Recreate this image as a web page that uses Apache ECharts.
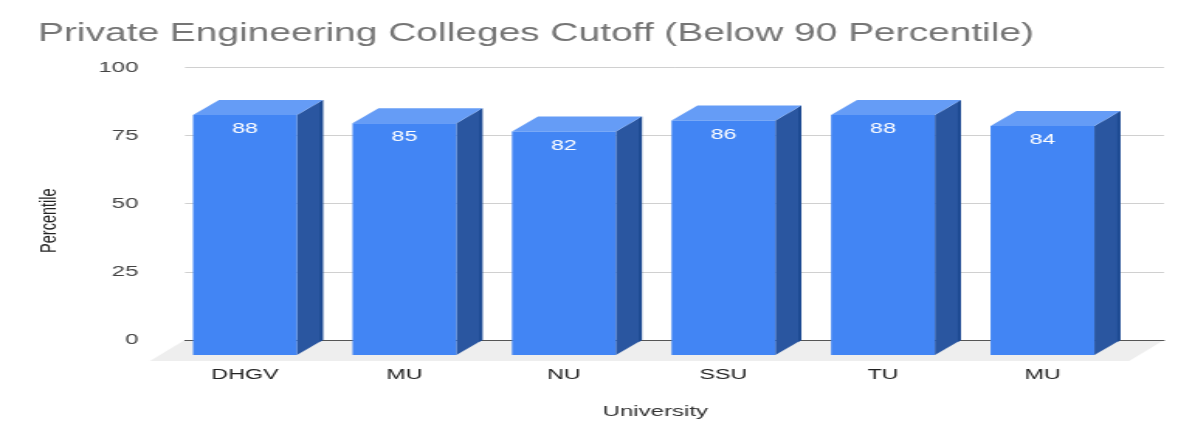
<!DOCTYPE html>
<html><head><meta charset="utf-8">
<script src="https://cdn.jsdelivr.net/npm/echarts@6/dist/echarts.min.js"></script>
<style>html,body{margin:0;padding:0;background:#fff;overflow:hidden;width:1200px;height:440px}
#c{height:440px;transform-origin:0 0;}</style></head>
<body><div id="c"></div>
<script>
const titleText = 'Private Engineering Colleges Cutoff (Below 90 Percentile)';
const categories = ['DHGV', 'MU', 'NU', 'SSU', 'TU', 'MU'];
const percentile = [88, 85, 82, 86, 88, 84];
const yTicks = { min: 0, max: 100, interval: 25 };

// The reference is horizontally stretched; the chart is laid out narrower and stretched the same way.
const S = 1.55;
const el = document.getElementById('c');
el.style.width = (1200 / S) + 'px';
el.style.transform = 'scaleX(' + S + ')';
const X = v => v / S;
const DX = X(26), DY = 15;
const FONT = 'Liberation Sans, Arial, sans-serif';

const chart = echarts.init(el, null, { renderer: 'canvas' });
chart.setOption({
  animation: false,
  backgroundColor: '#fff',
  title: { text: titleText, left: X(38), top: 22, padding: 0,
    textStyle: { color: '#757575', fontSize: 25.1, fontWeight: 'normal', fontFamily: FONT } },
  grid: [
    { left: X(185), width: X(979), top: 67.3, height: 272.7 },
    { left: X(165.2), width: X(957), top: 82.3, height: 272.7 }
  ],
  xAxis: [
    { gridIndex: 0, type: 'category', data: categories, z: 2,
      axisLine: { show: true, lineStyle: { color: '#555', width: 1 } },
      axisTick: { show: false }, axisLabel: { show: false } },
    { gridIndex: 1, type: 'category', data: categories,
      name: 'University', nameLocation: 'middle', nameGap: 49,
      nameTextStyle: { color: '#333', fontSize: 15.5, fontFamily: FONT, padding: [0, 0, 0, 15] },
      axisLine: { show: false }, axisTick: { show: false },
      axisLabel: { color: '#222', fontSize: 15, margin: 12, fontFamily: FONT, interval: 0 } }
  ],
  yAxis: [
    { gridIndex: 0, type: 'value', min: yTicks.min, max: yTicks.max, interval: yTicks.interval,
      name: 'Percentile', nameLocation: 'middle', nameGap: 80,
      nameTextStyle: { color: '#222', fontSize: 14.5, fontFamily: FONT, padding: [0, 34, 0, 0] },
      axisLine: { show: false }, axisTick: { show: false },
      axisLabel: { color: '#444', fontSize: 15.5, margin: 30, fontFamily: FONT },
      splitLine: { lineStyle: { color: '#d0d0d0', width: 1 } } },
    { gridIndex: 1, type: 'value', min: yTicks.min, max: yTicks.max, interval: yTicks.interval,
      show: false, splitLine: { show: false } }
  ],
  series: [
    { type: 'custom', xAxisIndex: 0, yAxisIndex: 0, z: 1, silent: true,
      data: [[0, 0]],
      renderItem: (p, api) => {
        const g = p.coordSys, b = g.y + g.height, d = X(35);
        return { type: 'polygon', shape: { points: [
          [g.x - d, b + 21], [g.x, b], [g.x + g.width, b], [g.x + g.width - d, b + 21]
        ] }, style: { fill: '#eeeeee' } };
      } },
    { type: 'custom', xAxisIndex: 1, yAxisIndex: 1, z: 5, silent: true,
      encode: { x: 0, y: 1 },
      data: percentile.map((v, i) => [i, v]),
      renderItem: (p, api) => {
        const top = api.coord([api.value(0), api.value(1)]);
        const base = api.coord([api.value(0), 0]);
        const w = api.size([1, 0])[0] * 0.651;
        const l = top[0] - w / 2, r = top[0] + w / 2, t = top[1], b = base[1];
        return { type: 'group', children: [
          { type: 'polygon', shape: { points: [[r, t], [r + DX, t - DY], [r + DX, b - DY], [r, b]] },
            style: { fill: '#2a56a0' } },
          { type: 'polygon', shape: { points: [[r + DX - X(3), t - DY + 2], [r + DX, t - DY], [r + DX, b - DY], [r + DX - X(3), b - DY + 2]] },
            style: { fill: '#1d4a92' } },
          { type: 'polygon', shape: { points: [[l, t], [l + DX, t - DY], [r + DX, t - DY], [r, t]] },
            style: { fill: '#659cf6' } },
          { type: 'rect', shape: { x: l, y: t, width: w, height: b - t }, style: { fill: '#4285f4' } },
          { type: 'text', style: { text: String(api.value(1)), x: top[0], y: t + 14,
              fill: '#ffffff', fontSize: 15, fontFamily: FONT, align: 'center', verticalAlign: 'middle' } }
        ] };
      } }
  ]
});
</script></body></html>
